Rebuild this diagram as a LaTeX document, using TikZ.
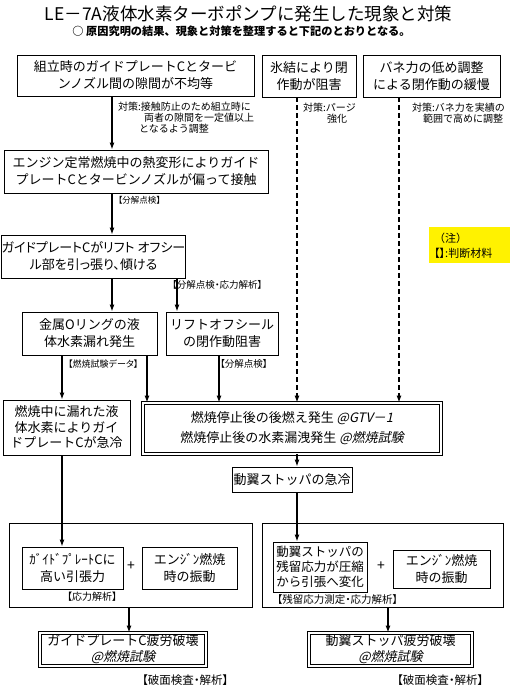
\documentclass[tikz,border=0pt]{standalone}
\usepackage{fontspec}
\setmainfont{Noto Sans CJK JP}
\newfontfamily\slantjp[FakeSlant=0.22]{Noto Sans CJK JP}
\newfontfamily\propjp[RawFeature=+palt]{Noto Sans CJK JP}
\usetikzlibrary{arrows.meta}

\begin{document}
\begin{tikzpicture}[x=1pt, y=-1pt,
		box/.style={draw, line width=0.9pt, inner sep=0pt, align=center, font=\fontsize{13}{17}\selectfont},
		dbox/.style={box, double, double distance=2pt, line width=0.8pt},
		small/.style={inner sep=0pt, align=left, anchor=west, font=\fontsize{10}{11}\selectfont},
		tag/.style={inner sep=0pt, anchor=west, font=\propjp\fontsize{#1}{#1}\selectfont},
		arr/.style={-{Latex[length=7pt,width=5pt]}, line width=1.1pt},
		darr/.style={arr, dash pattern=on 5pt off 3pt}]
	\useasboundingbox (0,0) rectangle (513,690);
	%title
	\node[font=\fontsize{17.5}{20}\selectfont] (title) at (248.5,14) {LE－7A液体水素ターボポンプに発生した現象と対策};
	\node[font=\fontsize{11.2}{14}\selectfont\bfseries] (sub) at (241.5,31) {○ 原因究明の結果、現象と対策を整理すると下記のとおりとなる。};
	%top row
	\node[box, minimum width=237, minimum height=41] (gap) at (135.5,75.5) {組立時のガイドプレートCとタービ\\ンノズル間の隙間が不均等};
	\node[box, minimum width=94, minimum height=42] (ice) at (309,76) {氷結により閉\\作動が阻害};
	\node[box, minimum width=137, minimum height=42] (spring) at (431.5,76) {バネ力の低め調整\\による閉作動の緩慢};
	\node[small] (fixA) at (118,118) {対策:接触防止のため組立時に\\\hspace*{26pt}両者の隙間を一定値以上\\\hspace*{21pt}となるよう調整};
	\node[small] (fixB) at (303,113.5) {対策:パージ\\\hspace*{24pt}強化};
	\node[small] (fixC) at (412,113.5) {対策:バネ力を実績の\\\hspace*{11pt}範囲で高めに調整};
	%left chain
	\node[box, minimum width=264, minimum height=43] (contact) at (136,171.5) {エンジン定常燃焼中の熱変形によりガイド\\プレートCとタービンノズルが偏って接触};
	\node[tag=8.5] (chkA) at (118,200) {【分解点検】};
	\node[box, minimum width=179, minimum height=43, font=\propjp\fontsize{13}{17}\selectfont] (tilt) at (93.5,256.5) {ガイドプレートCがリフト オフシー\\ル部を引っ張り、傾ける};
	\node[tag=9.5] (chkB) at (172,285) {【分解点検・応力解析】};
	\node[box, minimum width=135, minimum height=43] (oring) at (89.5,333.5) {金属Oリングの液\\体水素漏れ発生};
	\node[box, minimum width=112, minimum height=43] (seal) at (222,333.5) {リフトオフシール\\の閉作動阻害};
	\node[tag=9] (chkC) at (68,364) {【燃焼試験データ】};
	\node[tag=9.5] (chkD) at (220,364) {【分解点検】};
	%note
	\node[fill=yellow, minimum width=81, minimum height=36, inner sep=0pt] (note) at (469.5,245) {};
	\node[small, font=\fontsize{11}{15}\selectfont] (notetxt) at (434,245.5) {（注）\\{\propjp 【】}:判断材料};
	%events
	\node[box, minimum width=127, minimum height=55, font=\fontsize{13}{15.5}\selectfont] (cool) at (66.5,427.5) {燃焼中に漏れた液\\体水素によりガイ\\ドプレートCが急冷};
	\node[dbox, minimum width=298, minimum height=51, font=\fontsize{13}{20}\selectfont] (after) at (292,428.5) {燃焼停止後の後燃え発生 {\slantjp @GTV－1}\\燃焼停止後の水素漏洩発生 {\slantjp @燃焼試験}};
	\node[box, minimum width=120, minimum height=25] (quench) at (292,479.5) {動翼ストッパの急冷};
	%causes
	\node[box, minimum width=243, minimum height=84] (boxL) at (130.5,565) {};
	\node[box, minimum width=101, minimum height=42] (stressL) at (72.5,568) {ｶﾞｲﾄﾞﾌﾟﾚｰﾄCに\\高い引張力};
	\node[font=\fontsize{14}{14}\selectfont] (plusL) at (131,566) {+};
	\node[box, minimum width=95, minimum height=42] (vibL) at (189.5,568) {エンｼﾞﾝ燃焼\\時の振動};
	\node[tag=10] (chkE) at (67,597) {【応力解析】};
	\node[box, minimum width=241, minimum height=84] (boxR) at (382.5,565) {};
	\node[box, minimum width=94, minimum height=50, font=\fontsize{12.5}{15}\selectfont] (stressR) at (320,567) {動翼ストッパの\\残留応力が圧縮\\から引張へ変化};
	\node[font=\fontsize{14}{14}\selectfont] (plusR) at (381,566) {+};
	\node[box, minimum width=97, minimum height=38] (vibR) at (441.5,569) {エンｼﾞﾝ燃焼\\時の振動};
	\node[tag=10.5] (chkF) at (277,599) {【残留応力測定・応力解析】};
	%failures
	\node[dbox, minimum width=166, minimum height=33, font=\fontsize{13}{16}\selectfont] (failL) at (123,649.5) {ガイドプレートC疲労破壊\\{\slantjp @燃焼試験}};
	\node[tag=11.5] (chkG) at (142,680) {【破面検査・解析】};
	\node[dbox, minimum width=163, minimum height=33, font=\fontsize{13}{16}\selectfont] (failR) at (390.5,649.5) {動翼ストッパ疲労破壊\\{\slantjp @燃焼試験}};
	\node[tag=11.5] (chkH) at (397,680) {【破面検査・解析】};
	%columns
	\coordinate (cA) at (112,0);
	\coordinate (cB) at (177,0);
	\coordinate (cC) at (62,0);
	\coordinate (cD) at (147,0);
	\coordinate (cE) at (219,0);
	\coordinate (cF) at (297,0);
	\coordinate (cG) at (399,0);
	\coordinate (cH) at (129,0);
	\coordinate (cI) at (388,0);
	%connectors
	\draw[arr] (cA |- gap.south) -- (cA |- contact.north);
	\draw[arr] (cA |- contact.south) -- (cA |- tilt.north);
	\draw[arr] (cA |- tilt.south) -- (cA |- oring.north);
	\draw[arr] (cB |- tilt.south) -- (cB |- seal.north);
	\draw[arr] (cC |- oring.south) -- (cC |- cool.north);
	\draw[arr] (cD |- oring.south) -- (cD |- after.north);
	\draw[arr] (cE |- seal.south) -- (cE |- after.north);
	\draw[darr] (cF |- ice.south) -- (cF |- after.north);
	\draw[darr] (cG |- spring.south) -- (cG |- after.north);
	\draw[arr] (cF |- after.south) -- (cF |- quench.north);
	\draw[arr] (cF |- quench.south) -- (cF |- stressR.north);
	\draw[arr] (cC |- cool.south) -- (cC |- stressL.north);
	\draw[arr] (cH |- boxL.south) -- (cH |- failL.north);
	\draw[arr] (cI |- boxR.south) -- (cI |- failR.north);
\end{tikzpicture}
\end{document}
